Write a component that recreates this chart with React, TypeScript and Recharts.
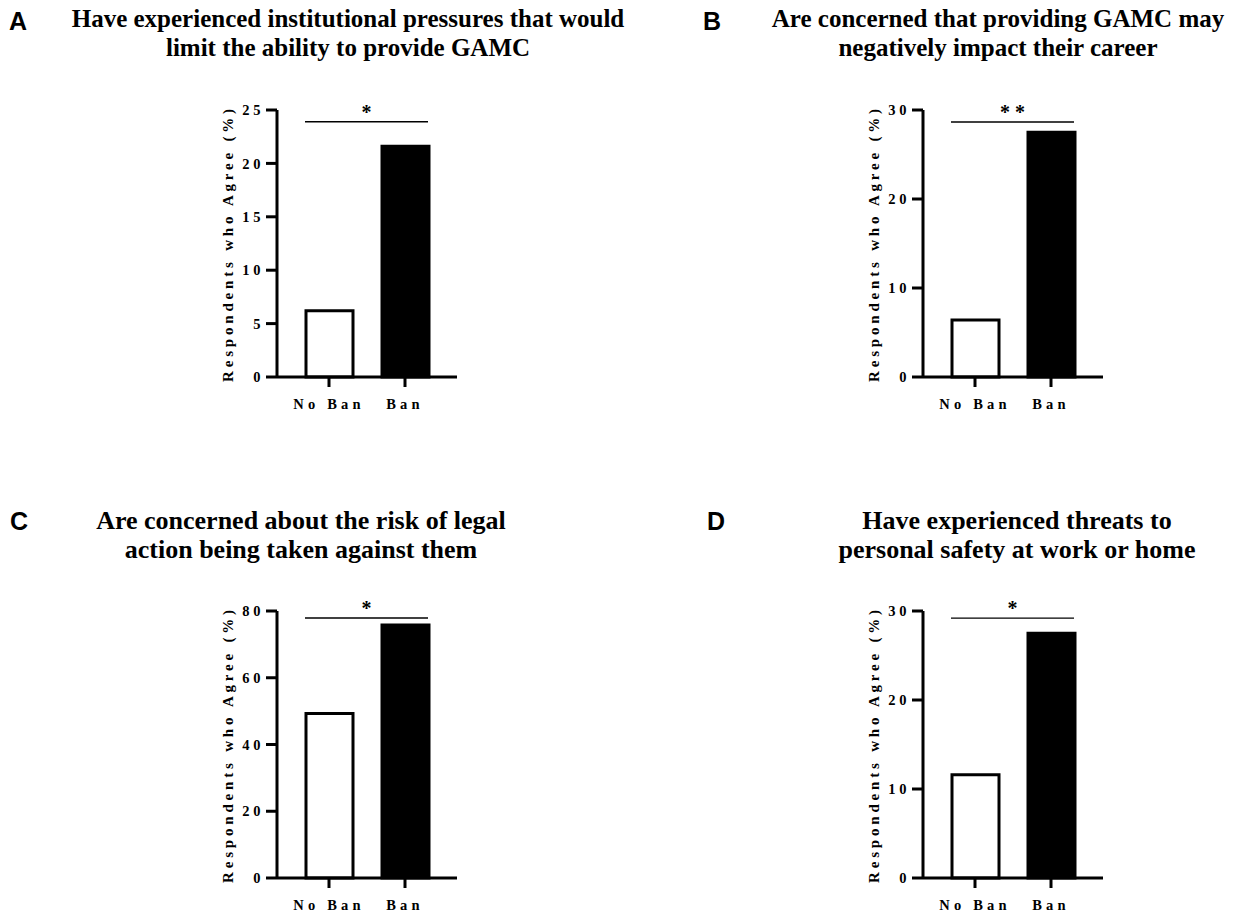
import React from 'react';
import { BarChart, Bar, XAxis, YAxis, Cell, ReferenceLine } from 'recharts';

// ---- Data ----
const categories = ['No Ban', 'Ban'];

const panelAValues = [6.2, 21.6];
const panelBValues = [6.4, 27.5];
const panelCValues = [49.3, 75.8];
const panelDValues = [11.6, 27.5];

const panelATicks = [0, 5, 10, 15, 20, 25];
const panelBTicks = [0, 10, 20, 30];
const panelCTicks = [0, 20, 40, 60, 80];
const panelDTicks = [0, 10, 20, 30];

const panelATitle = ['Have experienced institutional pressures that would', 'limit the ability to provide GAMC'];
const panelBTitle = ['Are concerned that providing GAMC may', 'negatively impact their career'];
const panelCTitle = ['Are concerned about the risk of legal', 'action being taken against them'];
const panelDTitle = ['Have experienced threats to', 'personal safety at work or home'];

const panelLetters = ['A', 'B', 'C', 'D'];
const significance = ['*', '**', '*', '*'];
const significanceLevels = [23.9, 28.65, 77.9, 29.2];

const yAxisLabel = 'Respondents who Agree (%)';
const barFills = ['#ffffff', '#000000'];

const SERIF = "'Liberation Serif', 'Times New Roman', serif";
const SANS = "'Liberation Sans', Arial, sans-serif";

type PanelProps = {
  values: number[];
  ticks: number[];
  sigLevel: number;
  sig: string;
  left: number;
  top: number;
};

const Panel = ({ values, ticks, sigLevel, sig, left, top }: PanelProps) => {
  const data = categories.map((name, i) => ({ name, value: values[i] }));
  const domainMax = ticks[ticks.length - 1];
  const sigText = sig.split('').join(' ');
  const SigShape = (props: any) => {
    const { x1, x2, y1 } = props;
    const lx1 = x1 + 28;
    const lx2 = x2 - 29;
    return (
      <g>
        <line x1={lx1} x2={lx2} y1={y1} y2={y1} stroke="#000" strokeWidth={1.3} />
        <text
          x={(lx1 + lx2) / 2}
          y={y1 - 3}
          textAnchor="middle"
          fontFamily={SERIF}
          fontWeight="bold"
          fontSize={20}
          fill="#000"
        >
          {sigText}
        </text>
      </g>
    );
  };
  const YLabel = (props: any) => {
    const vb = props.viewBox || {};
    const cx = vb.x - 9;
    const cy = vb.y + vb.height / 2;
    return (
      <text
        x={cx}
        y={cy}
        transform={`rotate(-90, ${cx}, ${cy})`}
        textAnchor="middle"
        dominantBaseline="central"
        fontFamily={SERIF}
        fontWeight="bold"
        fontSize={15}
        letterSpacing={3.8}
        fill="#000"
      >
        {yAxisLabel}
      </text>
    );
  };
  return (
    <div style={{ position: 'absolute', left, top }}>
      <BarChart
        width={280}
        height={340}
        data={data}
        margin={{ top: 20, right: 23, left: 37, bottom: 13 }}
      >
        <XAxis
          dataKey="name"
          padding={{ left: 14, right: 14 }}
          height={40}
          axisLine={{ stroke: '#000', strokeWidth: 3 }}
          tickLine={{ stroke: '#000', strokeWidth: 3 }}
          tickSize={10}
          tickMargin={12}
          tick={{ fill: '#000', fontFamily: SERIF, fontWeight: 'bold', fontSize: 14.5, letterSpacing: 4.2 }}
          interval={0}
        />
        <YAxis
          width={40}
          domain={[0, domainMax]}
          ticks={ticks}
          interval={0}
          axisLine={{ stroke: '#000', strokeWidth: 3 }}
          tickLine={{ stroke: '#000', strokeWidth: 3 }}
          tickSize={11}
          tickMargin={2}
          tick={{ fill: '#000', fontFamily: SERIF, fontWeight: 'bold', fontSize: 14.5, letterSpacing: 3.6 }}
          label={{ content: YLabel }}
        />
        <Bar dataKey="value" barSize={47} stroke="#000" strokeWidth={3} isAnimationActive={false}>
          {data.map((d, i) => (
            <Cell key={d.name} fill={barFills[i]} />
          ))}
        </Bar>
        <ReferenceLine y={sigLevel} shape={SigShape} />
      </BarChart>
    </div>
  );
};

const Title = ({ lines, cx, top, size }: { lines: string[]; cx: number; top: number; size: number }) => (
  <div
    style={{
      position: 'absolute',
      left: cx - 350,
      width: 700,
      top,
      textAlign: 'center',
      fontFamily: SERIF,
      fontWeight: 'bold',
      fontSize: size,
      lineHeight: '29px',
      color: '#000',
      whiteSpace: 'nowrap',
    }}
  >
    {lines.map((l) => (
      <div key={l}>{l}</div>
    ))}
  </div>
);

const Letter = ({ text, left, top }: { text: string; left: number; top: number }) => (
  <div
    style={{
      position: 'absolute',
      left,
      top,
      fontFamily: SANS,
      fontWeight: 'bold',
      fontSize: 25,
      lineHeight: '25px',
      color: '#000',
    }}
  >
    {text}
  </div>
);

export default function App() {
  return (
    <div
      style={{
        position: 'absolute',
        left: 0,
        top: 0,
        width: 1256,
        height: 914,
        background: '#fff',
        overflow: 'hidden',
      }}
    >
      <Letter text={panelLetters[0]} left={9} top={9} />
      <Letter text={panelLetters[1]} left={703} top={9} />
      <Letter text={panelLetters[2]} left={10} top={509} />
      <Letter text={panelLetters[3]} left={707} top={509} />

      <Title lines={panelATitle} cx={348} top={4} size={25} />
      <Title lines={panelBTitle} cx={998} top={4} size={25} />
      <Title lines={panelCTitle} cx={301} top={506} size={26} />
      <Title lines={panelDTitle} cx={1017} top={506} size={26} />

      <Panel values={panelAValues} ticks={panelATicks} sigLevel={significanceLevels[0]} sig={significance[0]} left={200} top={90} />
      <Panel values={panelBValues} ticks={panelBTicks} sigLevel={significanceLevels[1]} sig={significance[1]} left={846} top={90} />
      <Panel values={panelCValues} ticks={panelCTicks} sigLevel={significanceLevels[2]} sig={significance[2]} left={200} top={591} />
      <Panel values={panelDValues} ticks={panelDTicks} sigLevel={significanceLevels[3]} sig={significance[3]} left={846} top={591} />
    </div>
  );
}
